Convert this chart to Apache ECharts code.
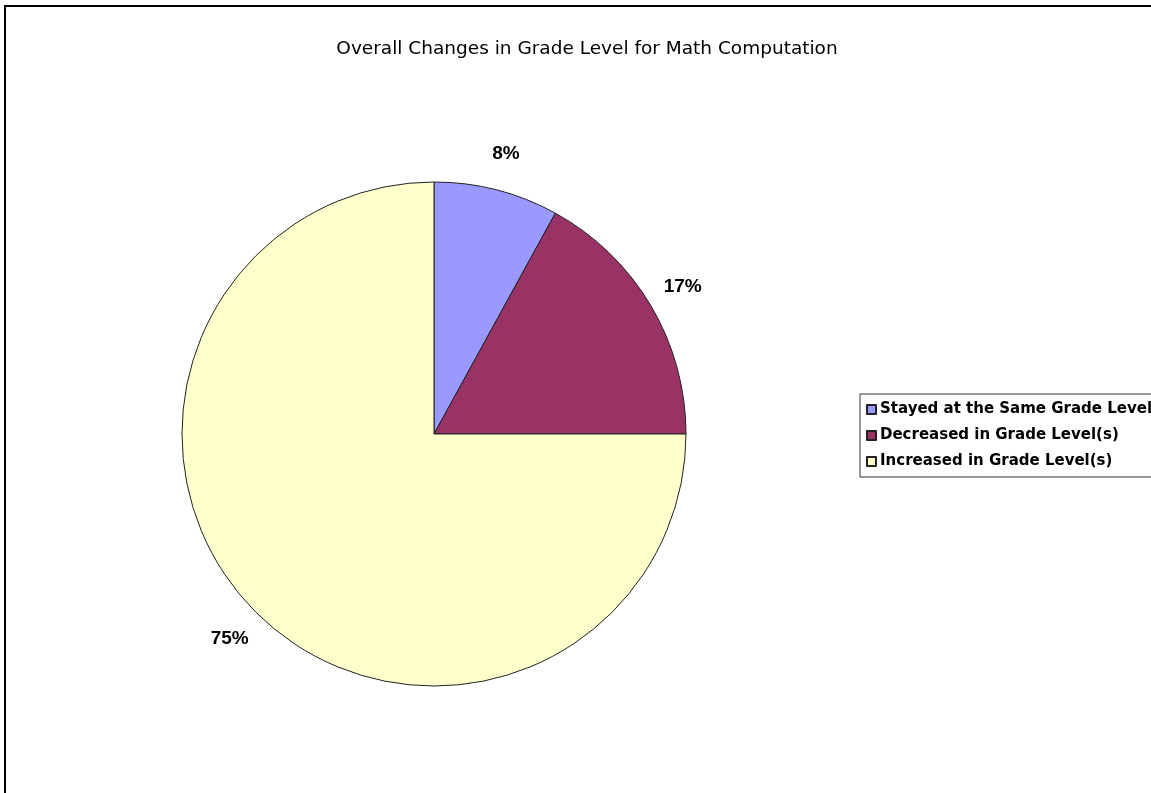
<!DOCTYPE html>
<html>
<head>
<meta charset="utf-8">
<title>Overall Changes in Grade Level for Math Computation</title>
<script src="https://cdn.jsdelivr.net/npm/echarts@6/dist/echarts.min.js"></script>
<style>
  html, body { margin: 0; padding: 0; background: #fff; }
  #chart { width: 1151px; height: 793px; }
</style>
</head>
<body>
<div id="chart"></div>
<script>
// Share of students by change in math computation grade level (percent)
const categories = [
  'Stayed at the Same Grade Level',
  'Decreased in Grade Level(s)',
  'Increased in Grade Level(s)'
];
const shares = [8, 17, 75];
const colors = ['#9999FF', '#993366', '#FFFFCC'];

const labelFont = 'Liberation Sans, Arial, sans-serif';
const wideFont = 'DejaVu Sans, Verdana, sans-serif';

const slices = categories.map((name, i) => ({
  name: name,
  value: shares[i],
  itemStyle: { color: colors[i] }
}));

const chart = echarts.init(document.getElementById('chart'), null, { renderer: 'canvas' });

chart.setOption({
  animation: false,
  backgroundColor: '#ffffff',
  title: {
    text: 'Overall Changes in Grade Level for Math Computation',
    left: 582,
    textAlign: 'center',
    top: 35,
    textStyle: { fontFamily: wideFont, fontSize: 18.5, fontWeight: 'normal', color: '#000' }
  },
  legend: {
    orient: 'vertical',
    left: 860,
    top: 394,
    data: categories,
    icon: 'rect',
    itemWidth: 9,
    itemHeight: 9,
    itemGap: 7,
    padding: [6, 40, 6, 6],
    borderColor: '#333',
    borderWidth: 1,
    selectedMode: false,
    textStyle: { fontFamily: wideFont, fontSize: 15, fontWeight: 'bold', color: '#000', lineHeight: 19, padding: [0, 0, 0, -1] }
  },
  graphic: [{
    type: 'rect',
    shape: { x: 5, y: 6, width: 2000, height: 2000 },
    style: { fill: 'none', stroke: '#000', lineWidth: 2 },
    silent: true
  }],
  series: [
    {
      type: 'pie',
      center: [434, 434],
      radius: [0, 252],
      startAngle: 90,
      clockwise: true,
      data: slices,
      itemStyle: { borderColor: '#222', borderWidth: 1 },
      label: { show: false },
      labelLine: { show: false },
      emphasis: { disabled: true },
      silent: true
    },
    {
      // transparent ring that carries the percentage labels just outside the pie
      type: 'pie',
      center: [434, 434],
      radius: [264, 308],
      startAngle: 90,
      clockwise: true,
      data: categories.map((name, i) => ({ name: name, value: shares[i] })),
      itemStyle: { color: 'transparent', borderWidth: 0 },
      label: {
        show: true,
        position: 'inside',
        formatter: '{d}%',
        fontFamily: labelFont,
        fontSize: 19,
        fontWeight: 'bold',
        color: '#000'
      },
      labelLine: { show: false },
      emphasis: { disabled: true },
      silent: true
    }
  ]
});
</script>
</body>
</html>
